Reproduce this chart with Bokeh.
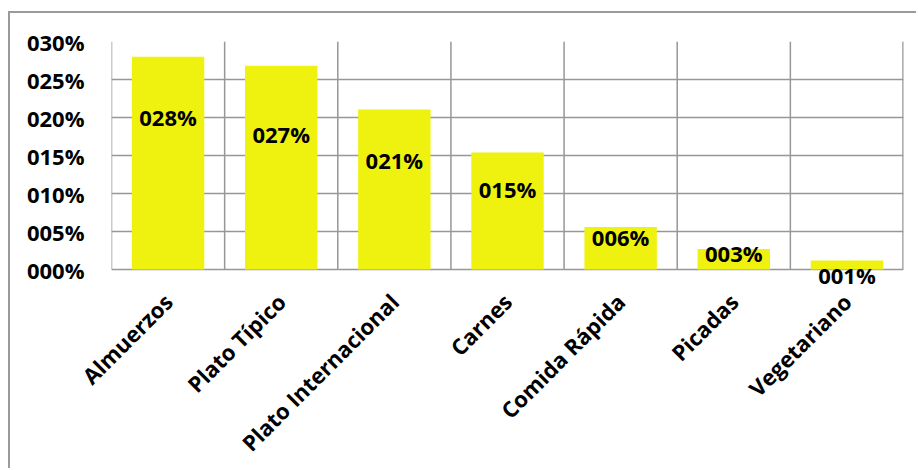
from bokeh.plotting import figure
from bokeh.models import FixedTicker, ColumnDataSource, LabelSet
from bokeh.core.properties import value
from bokeh.embed import file_html
from bokeh.resources import INLINE
import math

# ---- data ----
categories = ["Almuerzos", "Plato Típico", "Plato Internacional", "Carnes",
              "Comida Rápida", "Picadas", "Vegetariano"]
shares = [0.280, 0.268, 0.2105, 0.154, 0.056, 0.027, 0.012]
y_ticks = [0.0, 0.05, 0.10, 0.15, 0.20, 0.25, 0.30]

def fmt(v):
    return f"{round(v * 100):03d}%"

# ---- styling ----
FONT = "Open Sans"
BAR = "#EEF20E"
GRID = "#979797"
label_frac = [0.716, 0.665, 0.685, 0.69, 0.77, 0.78, -0.65]
Y_PAD = 0.025  # room under the axis for labels that hang below it

n = len(categories)
xs = [i + 0.5 for i in range(n)]
src = ColumnDataSource(dict(
    x=xs, top=shares, lbl=[fmt(v) for v in shares],
    ly=[v * f for v, f in zip(shares, label_frac)],
))
ymin, ymax = y_ticks[0], y_ticks[-1]

p = figure(width=908, height=457, x_range=(0, n), y_range=(ymin - Y_PAD, ymax),
           output_backend="svg", toolbar_location=None,
           min_border_left=101, min_border_right=15,
           min_border_top=28, min_border_bottom=177)
p.styles = {"margin-left": "8px", "margin-top": "11px",
            "border-left": "2px solid #9a9a9a", "border-top": "2px solid #9a9a9a"}

# vertical category separators (plot-area grid), limited to the value range
bounds = list(range(n + 1))
p.segment(x0=bounds, x1=bounds, y0=[ymin] * len(bounds), y1=[ymax] * len(bounds),
          line_color=GRID, line_width=[1.5] * n + [2.5], level="underlay")

p.vbar(x="x", top="top", width=0.64, bottom=0, source=src,
       fill_color=BAR, line_color=None)
labels = LabelSet(x="x", y="ly", text="lbl", source=src, text_align="center",
                  text_baseline="middle", text_font=value(FONT), text_font_style="bold",
                  text_font_size="22px", text_color="black", level="overlay")
p.add_layout(labels)

# axes
p.xaxis.ticker = FixedTicker(ticks=xs)
p.xaxis.major_label_overrides = {x: c for x, c in zip(xs, categories)}
p.xaxis.major_label_orientation = math.pi / 4
p.xaxis.major_label_text_font = FONT
p.xaxis.major_label_text_font_style = "bold"
p.xaxis.major_label_text_font_size = "22px"
p.xaxis.major_label_text_color = "black"
p.xaxis.major_label_standoff = 3
p.xaxis.axis_line_color = None
p.xaxis.major_tick_line_color = None
p.xaxis.minor_tick_line_color = None

p.yaxis.ticker = FixedTicker(ticks=y_ticks)
p.yaxis.major_label_overrides = {t: fmt(t) for t in y_ticks}
p.yaxis.major_label_text_font = FONT
p.yaxis.major_label_text_font_style = "bold"
p.yaxis.major_label_text_font_size = "22px"
p.yaxis.major_label_text_color = "black"
p.yaxis.major_label_standoff = 21
p.yaxis.axis_line_color = None
p.yaxis.major_tick_line_color = None
p.yaxis.minor_tick_line_color = None

# grids
p.xgrid.grid_line_color = None
p.ygrid.ticker = FixedTicker(ticks=y_ticks)
p.ygrid.grid_line_color = GRID
p.ygrid.grid_line_width = 1.5
p.ygrid.level = "underlay"

p.outline_line_color = None
p.background_fill_color = "white"
p.border_fill_color = "white"

open("out.html", "w").write(file_html(p, INLINE))
